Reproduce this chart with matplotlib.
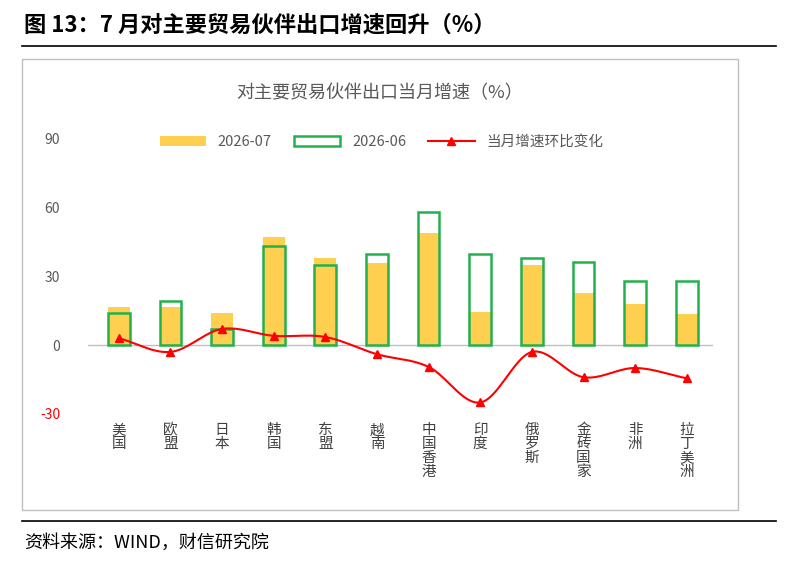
import numpy as np
import matplotlib
matplotlib.use('Agg')
import matplotlib.pyplot as plt
from matplotlib.lines import Line2D
from matplotlib.patches import Rectangle

plt.rcParams['font.family'] = ['Noto Sans CJK SC', 'DejaVu Sans']

categories = ["美国", "欧盟", "日本", "韩国", "东盟", "越南", "中国香港", "印度",
              "俄罗斯", "金砖国家", "非洲", "拉丁美洲"]
jul = [16.5, 16.5, 14, 47, 38, 35.5, 48.7, 14.3, 35, 22.6, 18, 13.5]
jun = [14, 19, 7, 43, 35, 39.5, 58, 39.5, 38, 36, 28, 28]
change = [3, -3, 7, 4, 3.5, -4, -9.5, -25, -3, -14, -10, -14.5]
yticks = [-30, 0, 30, 60, 90]


def smooth(x, y, n=20):
    # Catmull-Rom curve through the points, for a smoothed line look
    x = np.asarray(x, float); y = np.asarray(y, float)
    px = np.concatenate([[2 * x[0] - x[1]], x, [2 * x[-1] - x[-2]]])
    py = np.concatenate([[2 * y[0] - y[1]], y, [2 * y[-1] - y[-2]]])
    xs, ys = [], []
    t = np.linspace(0, 1, n, endpoint=False)
    for i in range(1, len(px) - 2):
        for p, out in ((px, xs), (py, ys)):
            p0, p1, p2, p3 = p[i - 1], p[i], p[i + 1], p[i + 2]
            out.extend(0.5 * (2 * p1 + (-p0 + p2) * t + (2 * p0 - 5 * p1 + 4 * p2 - p3) * t ** 2
                              + (-p0 + 3 * p1 - 3 * p2 + p3) * t ** 3))
    xs.append(x[-1]); ys.append(y[-1])
    return xs, ys


fig = plt.figure(figsize=(7.98, 5.64), dpi=100)
fig.text(0.03, 0.955, "图 13：7 月对主要贸易伙伴出口增速回升（%）", fontsize=16,
         fontweight='bold', va='center')
fig.add_artist(Line2D([0.027, 0.973], [0.918, 0.918], color='black', lw=1.2))
fig.add_artist(Line2D([0.027, 0.973], [0.077, 0.077], color='black', lw=1.2))
fig.add_artist(Rectangle((0.028, 0.095), 0.897, 0.80, fill=False, ec='#bfbfbf', lw=1))
fig.text(0.03, 0.038, "资料来源：WIND，财信研究院", fontsize=13, style='italic', va='center')
fig.text(0.475, 0.825, "对主要贸易伙伴出口当月增速（%）", fontsize=13, color='#595959', ha='center')

ax = fig.add_axes([0.11, 0.266, 0.783, 0.489])
x = np.arange(len(categories))
w = 0.42
b1 = ax.bar(x, jul, width=w, color='#ffd04f', label='2026-07', zorder=2)
b2 = ax.bar(x, jun, width=w, facecolor='none', edgecolor='#22b14c', lw=1.8, label='2026-06', zorder=3)
sx, sy = smooth(x, change)
ax.plot(sx, sy, color='#ff0000', lw=1.5, zorder=4)
ax.plot(x, change, ls='none', marker='^', color='#ff0000', ms=6, zorder=5)
l1, = ax.plot([], [], color='#ff0000', marker='^', ms=6, lw=1.5, label='当月增速环比变化')

ax.set_xlim(-0.6, len(categories) - 0.5)
ax.set_ylim(-30, 90)
ax.set_yticks(yticks)
ax.set_yticklabels([str(v) for v in yticks], fontsize=10, color='#595959')
ax.get_yticklabels()[0].set_color('#ff0000')
ax.tick_params(axis='y', length=0, pad=20)
for s in ax.spines.values():
    s.set_visible(False)
ax.axhline(0, color='#bfbfbf', lw=1, zorder=1)
ax.set_xticks([])
for xi, c in zip(x, categories):
    ax.text(xi, -34, "\n".join(c), ha='center', va='top', fontsize=10.5,
            color='#404040', linespacing=1.0)

ax.legend([b1, b2, l1], ['2026-07', '2026-06', '当月增速环比变化'],
          loc='upper center', bbox_to_anchor=(0.47, 1.06), ncol=3, frameon=False,
          fontsize=10.5, labelcolor='#595959', handlelength=3.2, columnspacing=1.5)
fig.savefig('out.png', dpi=100)
